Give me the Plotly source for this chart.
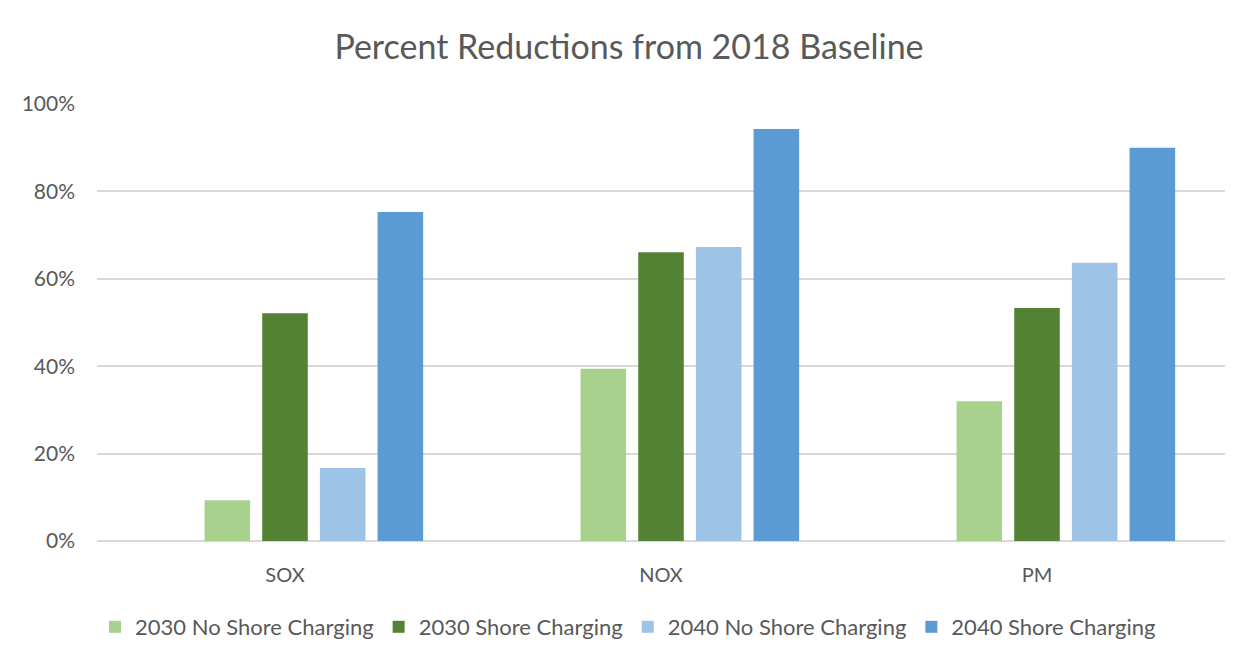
import plotly.graph_objects as go

categories = ["SOX", "NOX", "PM"]
series_names = ["2030 No Shore Charging", "2030 Shore Charging", "2040 No Shore Charging", "2040 Shore Charging"]
v_2030_no_shore = [0.093, 0.394, 0.320]
v_2030_shore = [0.521, 0.661, 0.533]
v_2040_no_shore = [0.167, 0.673, 0.637]
v_2040_shore = [0.753, 0.943, 0.900]
v_empty = [None, None, None]
y_tickvals = [0, 0.2, 0.4, 0.6, 0.8, 1.0]
y_ticktext = ["0%", "20%", "40%", "60%", "80%", "100%"]

colors = ["#A9D18E", "#548235", "#9DC3E6", "#5B9BD5"]
values = [v_2030_no_shore, v_2030_shore, v_2040_no_shore, v_2040_shore]

FONT = "Lato"
TXT = "#595959"

fig = go.Figure()
# empty leading series (as in the source chart, which reserves an unused slot)
fig.add_trace(go.Bar(x=categories, y=v_empty, name="", showlegend=False, hoverinfo="skip",
                     marker=dict(color="rgba(0,0,0,0)")))
for name, vals, col in zip(series_names, values, colors):
    fig.add_trace(go.Bar(x=categories, y=vals, name=name, marker=dict(color=col, line=dict(width=0))))

# page has an 8px body margin; work in page pixels and convert
OFF = 8
W, H = 1248 - OFF, 664 - OFF
L, R, T, B = 97 - OFF, 1248 - 1225, 104 - OFF, 664 - 541
pw, ph = W - L - R, H - T - B

def px_x(x):
    return (x - OFF - L) / pw

def px_y(y):
    return (H - B - (y - OFF)) / ph

fig.update_layout(
    width=W, height=H,
    margin=dict(l=L, r=R, t=T, b=B),
    paper_bgcolor="white", plot_bgcolor="white",
    barmode="group", bargap=0.233, bargroupgap=0.21,
    font=dict(family=FONT, color=TXT, size=20),
    title=dict(text="Percent Reductions from 2018 Baseline", x=(629 - OFF) / W, xanchor="center",
               y=1 - (47 - OFF) / H, yanchor="middle", yref="container",
               font=dict(family=FONT, size=34, color=TXT)),
    xaxis=dict(showgrid=False, showline=False, ticks="", ticklabelstandoff=20,
               tickfont=dict(size=20, color=TXT)),
    yaxis=dict(range=[0, 1.0], tickvals=y_tickvals, ticktext=y_ticktext,
               showgrid=True, gridcolor="#D9D9D9", gridwidth=1.5,
               zeroline=True, zerolinecolor="#D9D9D9", zerolinewidth=1.5,
               showline=False, ticks="", ticklabelstandoff=21,
               tickfont=dict(size=21, color=TXT)),
    legend=dict(orientation="h", x=px_x(628), xanchor="center", y=px_y(627), yanchor="middle",
                font=dict(size=22, color=TXT), traceorder="normal", itemclick=False,
                itemwidth=30),
    showlegend=True,
)

fig.write_html("out.html")
